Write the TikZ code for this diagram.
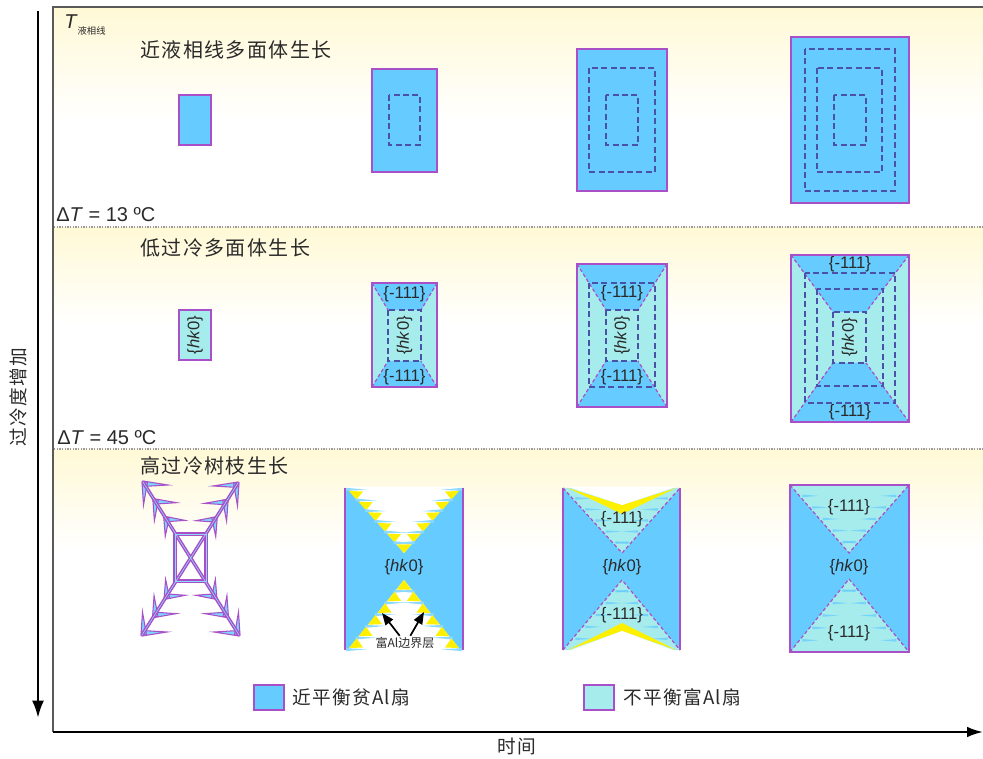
\documentclass[tikz,border=0pt]{standalone}
\usepackage{fontspec}
\setmainfont{Liberation Sans}
\newfontfamily\cjk{Noto Sans CJK SC}
\newfontfamily\cjkwide[LetterSpace=7]{Noto Sans CJK SC}
\usetikzlibrary{arrows.meta}

\definecolor{fanblue}{HTML}{66CCFF}
\definecolor{fancyan}{HTML}{A6ECEC}
\definecolor{fanedge}{HTML}{A94FC8}
\definecolor{dashblue}{HTML}{4A52A8}
\definecolor{alyellow}{HTML}{FFF000}
\definecolor{bandtint}{HTML}{FFF9D6}
\definecolor{framegray}{HTML}{5A5A5A}
\definecolor{labelgray}{HTML}{2A2A2A}

\tikzset{
  crystal/.style={draw=fanedge, line width=1.4pt},
  sectorline/.style={draw=fanedge, dash pattern=on 2.6pt off 1.8pt, line width=0.9pt},
  growthline/.style={draw=dashblue, dash pattern=on 4.5pt off 2.6pt, line width=1pt},
  facet/.style={font=\fontsize{12.5}{13}\selectfont, text=labelgray, inner sep=0pt},
  rowtitle/.style={font=\cjkwide\fontsize{15}{16}\selectfont, anchor=west, inner sep=0pt, text=labelgray},
  tempnote/.style={font=\fontsize{15}{16}\selectfont, anchor=west, inner sep=0pt, text=labelgray},
  legendbox/.style={draw=fanedge, line width=1.1pt},
  legendtext/.style={font=\cjkwide\fontsize{14}{16}\selectfont, anchor=west, inner sep=0pt, text=labelgray},
  axislabel/.style={font=\cjkwide\fontsize{14}{16}\selectfont, inner sep=0pt, text=labelgray},
  spike/.style={fill=fanblue!85!white, draw=fanedge, line width=0.8pt, line join=miter},
  dendrite/.style={draw=fanedge, line width=2.6pt},
  dendritecore/.style={draw=fanblue!75!white, line width=0.45pt},
  callout/.style={draw=black, line width=1.3pt, -{Triangle[length=9pt,width=7pt]}},
  separator/.style={draw=gray!80, densely dotted, line width=1pt},
  streak/.style={fill=fanblue, opacity=0.75},
}

% sector-zoned crystal: outer box #1..#4, inner box #5..#8
\newcommand\sectorbox[8]{%
  \fill[fancyan] (#1,#2) rectangle (#3,#4);
  \fill[fanblue] (#1,#2) -- (#3,#2) -- (#7,#6) -- (#5,#6) -- cycle;
  \fill[fanblue] (#1,#4) -- (#3,#4) -- (#7,#8) -- (#5,#8) -- cycle;
  \draw[sectorline] (#1,#2) -- (#5,#6) (#3,#2) -- (#7,#6) (#1,#4) -- (#5,#8) (#3,#4) -- (#7,#8);
  \draw[growthline] (#5,#6) rectangle (#7,#8);
}

% short blue streaks pointing away from an edge (#1,#2)--(#3,#4), direction #5
\newcommand\streakrow[5]{%
  \foreach \fr in {0.16,0.33,0.5,0.67,0.84}{
    \pgfmathsetmacro\sxa{#1+\fr*(#3-#1)+3*(#5)}
    \pgfmathsetmacro\sya{#2+\fr*(#4-#2)}
    \pgfmathsetmacro\sxb{\sxa+16*(#5)}
    \fill[streak] (\sxa,\sya-1.3) -- (\sxb,\sya) -- (\sxa,\sya+1.3) -- cycle;
  }
}

\begin{document}
\begin{tikzpicture}[x=0.75pt, y=-0.75pt]
\useasboundingbox (0,0) rectangle (983,759);
\fill[white] (0,0) rectangle (983,759);

% ---- background bands ----
\shade[top color=bandtint, bottom color=white] (54,8) rectangle (983,120);
\shade[top color=bandtint, bottom color=white] (54,228) rectangle (983,325);
\shade[top color=bandtint, bottom color=white] (54,450) rectangle (983,550);
\draw[separator] (54,227) -- (983,227);
\draw[separator] (54,449) -- (983,449);

% ---- frame and axes ----
\draw[framegray, line width=1.2pt] (53,732) -- (53,7) -- (983,7);
\coordinate (xstart) at (53,732);
\coordinate (xend) at (983,732);
\draw[black, line width=1.6pt, -{Latex[length=12pt,width=8pt]}] (xstart) -- (xend);
\coordinate (ystart) at (38,11);
\coordinate (yend) at (38,718);
\draw[black, line width=2pt, -{Latex[length=13pt,width=9pt]}] (ystart) -- (yend);
\node[axislabel, rotate=90] (ylbl) at (18,397) {过冷度增加};
\node[axislabel] (xlbl) at (517,746) {时间};

% ---- band labels ----
\node[anchor=west, inner sep=0pt, text=labelgray] (tliq) at (64,25)
  {\fontsize{15}{16}\selectfont\textit{T}\raisebox{-4pt}{\cjk\fontsize{7}{8}\selectfont 液相线}};
\node[tempnote] (dt1) at (56,215) {Δ\textit{T} = 13 ºC};
\node[tempnote] (dt2) at (57,438) {Δ\textit{T} = 45 ºC};
\node[rowtitle] (title1) at (140,50) {近液相线多面体生长};
\node[rowtitle] (title2) at (140,248) {低过冷多面体生长};
\node[rowtitle] (title3) at (140,466) {高过冷树枝生长};

% ---- row 1: polyhedral growth near the liquidus ----
\draw[crystal, fill=fanblue] (179,95) rectangle (211,145);

\fill[fanblue] (372,69) rectangle (437,172);
\draw[growthline] (389,95) rectangle (420,145);
\draw[crystal] (372,69) rectangle (437,172);

\fill[fanblue] (577,49) rectangle (667,191);
\draw[growthline] (589,68) rectangle (655,172);
\draw[growthline] (606,95) rectangle (638,145);
\draw[crystal] (577,49) rectangle (667,191);

\fill[fanblue] (791,37) rectangle (909,203);
\draw[growthline] (805,49) rectangle (895,191);
\draw[growthline] (817,68) rectangle (882,172);
\draw[growthline] (834,95) rectangle (866,145);
\draw[crystal] (791,37) rectangle (909,203);

% ---- row 2: polyhedral growth at low undercooling ----
\draw[crystal, fill=fancyan] (179,310) rectangle (211,360);
\node[facet, rotate=90] (hk1) at (195,335) {\{\textit{hk}0\}};

\sectorbox{372}{283}{437}{387}{388}{310}{421}{361}
\draw[crystal] (372,283) rectangle (437,387);
\node[facet] (f2a) at (404.5,294) {\{-111\}};
\node[facet] (f2b) at (404.5,377) {\{-111\}};
\node[facet, rotate=90] (hk2) at (404.5,335.5) {\{\textit{hk}0\}};

\sectorbox{577}{264}{667}{407}{606}{310}{638}{361}
\draw[growthline] (589,283) rectangle (655,387);
\draw[crystal] (577,264) rectangle (667,407);
\node[facet] (f3a) at (622,293) {\{-111\}};
\node[facet] (f3b) at (622,377) {\{-111\}};
\node[facet, rotate=90] (hk3) at (622,335.5) {\{\textit{hk}0\}};

\sectorbox{791}{255}{909}{422}{833}{312}{866}{363}
\draw[growthline] (805,273) rectangle (895,403);
\draw[growthline] (817,289) rectangle (883,386);
\draw[crystal] (791,255) rectangle (909,422);
\node[facet] (f4a) at (850,264) {\{-111\}};
\node[facet] (f4b) at (850,412) {\{-111\}};
\node[facet, rotate=90] (hk4) at (849.5,337.5) {\{\textit{hk}0\}};

% ---- row 3: dendritic growth at high undercooling ----
% dendrite side branches
\foreach \tx/\ty/\cx/\cy/\sx/\sy in {143/482/175/534/1/1, 238/483/206/534/-1/1, 142/635/176/581/1/-1, 239/635/205/581/-1/-1}{
  \foreach \t in {0,0.34,0.68}{
    \pgfmathsetmacro\px{\tx+\t*(\cx-\tx)}
    \pgfmathsetmacro\py{\ty+\t*(\cy-\ty)}
    \pgfmathsetmacro\hx{\px+(25-7*\t)*(\sx)}
    \pgfmathsetmacro\vy{\py+(23-6*\t)*(\sy)}
    \pgfmathsetmacro\ya{\py-1*(\sy)}
    \pgfmathsetmacro\yb{\py+3*(\sy)}
    \pgfmathsetmacro\yc{\py+4.5*(\sy)}
    \pgfmathsetmacro\xa{\px-1*(\sx)}
    \pgfmathsetmacro\xb{\px+0.5*(\sx)}
    \pgfmathsetmacro\xc{\px+4.5*(\sx)}
    \filldraw[spike] (\px,\ya) -- (\hx,\yb) -- (\px,\yc) -- cycle;
    \filldraw[spike] (\xa,\py) -- (\xb,\vy) -- (\xc,\py) -- cycle;
  }
}
% dendrite trunks and central cell
\draw[dendrite] (143,482) -- (239,635) (238,483) -- (142,635);
\draw[dendrite] (175,534) rectangle (206,581);
\draw[dendritecore] (143,482) -- (239,635) (238,483) -- (142,635);
\draw[dendritecore] (175,534) rectangle (206,581);

% hourglass crystal with Al-rich boundary layers
\fill[fanblue] (345,488) rectangle (463,650);
\fill[white] (347,487) -- (461,487) -- (404,553) -- cycle;
\fill[white] (347,651) -- (461,651) -- (404,580) -- cycle;
\foreach \i in {0,...,5}{
  \pgfmathsetmacro\ax{347+9.5*\i}
  \pgfmathsetmacro\ay{489+10.67*\i}
  \pgfmathsetmacro\bx{347+9.5*(\i+1)}
  \pgfmathsetmacro\by{489+10.67*(\i+1)}
  \fill[alyellow] (\ax+2,\ay+2) -- (\ax+16,\ay+2.5) -- (\bx,\by) -- cycle;
  \fill[alyellow] (806-\ax,\ay+2) -- (808-\ax-16,\ay+2.5) -- (808-\bx,\by) -- cycle;
  \fill[fanblue!75!white] (\ax-1,\ay-1.2) -- (\ax+20,\ay+0.8) -- (\ax-1,\ay+1.8) -- cycle;
  \fill[fanblue!75!white] (809-\ax,\ay-1.2) -- (808-\ax-20,\ay+0.8) -- (809-\ax,\ay+1.8) -- cycle;
  \pgfmathsetmacro\mx{404-9.5*\i}
  \pgfmathsetmacro\my{580+11.67*\i}
  \pgfmathsetmacro\nx{404-9.5*(\i+1)}
  \pgfmathsetmacro\ny{580+11.67*(\i+1)}
  \fill[alyellow] (\mx,\my) -- (\nx+2,\ny-2) -- (\nx+16,\ny-2.5) -- cycle;
  \fill[alyellow] (808-\mx,\my) -- (806-\nx,\ny-2) -- (808-\nx-16,\ny-2.5) -- cycle;
  \fill[fanblue!75!white] (\nx-1,\ny-1.8) -- (\nx+20,\ny-0.8) -- (\nx-1,\ny+1.2) -- cycle;
  \fill[fanblue!75!white] (809-\nx,\ny-1.8) -- (808-\nx-20,\ny-0.8) -- (809-\nx,\ny+1.2) -- cycle;
}
\draw[crystal] (345,488) -- (345,650) (463,488) -- (463,650);
\node[facet] (hk5) at (404,567) {\{\textit{hk}0\}};
\node[inner sep=1pt, font=\cjk\fontsize{9}{10}\selectfont, text=labelgray] (albl) at (405,643) {富Al边界层};
\coordinate (tooth1) at (382,613);
\coordinate (tooth2) at (424,612);
\draw[callout] ([xshift=-4]albl.north) -- (tooth1);
\draw[callout] ([xshift=4]albl.north) -- (tooth2);

% hourglass crystal with Al-rich {-111} sectors
\fill[fanblue] (563,488) rectangle (680,650);
\fill[fancyan] (563,488) -- (680,488) -- (622,553) -- cycle;
\fill[fancyan] (563,650) -- (680,650) -- (622,580) -- cycle;
\streakrow{563}{488}{622}{553}{1}
\streakrow{680}{488}{622}{553}{-1}
\streakrow{563}{650}{622}{580}{1}
\streakrow{680}{650}{622}{580}{-1}
\fill[alyellow] (568,488) -- (622,514) -- (676,488) -- (622,505) -- cycle;
\fill[white] (568,487) -- (676,487) -- (622,505) -- cycle;
\fill[alyellow] (568,650) -- (622,623) -- (676,650) -- (622,631) -- cycle;
\fill[white] (568,651) -- (676,651) -- (622,631) -- cycle;
\draw[sectorline] (563,488) -- (622,553) -- (680,488);
\draw[sectorline] (563,650) -- (622,580) -- (680,650);
\draw[crystal] (563,488) -- (563,650) (680,488) -- (680,650);
\node[facet] (f6a) at (622,519) {\{-111\}};
\node[facet] (f6b) at (622,615) {\{-111\}};
\node[facet] (hk6) at (622,567) {\{\textit{hk}0\}};

% fully developed hourglass crystal
\fill[fanblue] (790,485) rectangle (909,652);
\fill[fancyan] (790,485) -- (909,485) -- (849,553) -- cycle;
\fill[fancyan] (790,652) -- (909,652) -- (849,579) -- cycle;
\streakrow{790}{485}{849}{553}{1}
\streakrow{909}{485}{849}{553}{-1}
\streakrow{790}{652}{849}{579}{1}
\streakrow{909}{652}{849}{579}{-1}
\draw[sectorline] (790,485) -- (849,553) -- (909,485);
\draw[sectorline] (790,652) -- (849,579) -- (909,652);
\draw[crystal] (790,485) rectangle (909,652);
\node[facet] (f7a) at (849,507) {\{-111\}};
\node[facet] (f7b) at (849,633) {\{-111\}};
\node[facet] (hk7) at (849,567) {\{\textit{hk}0\}};

% ---- legend ----
\draw[legendbox, fill=fanblue] (254,685) rectangle (284,710);
\node[legendtext] (leg1) at (292,697) {近平衡贫Al扇};
\draw[legendbox, fill=fancyan] (584,685) rectangle (614,710);
\node[legendtext] (leg2) at (623,697) {不平衡富Al扇};
\end{tikzpicture}
\end{document}
